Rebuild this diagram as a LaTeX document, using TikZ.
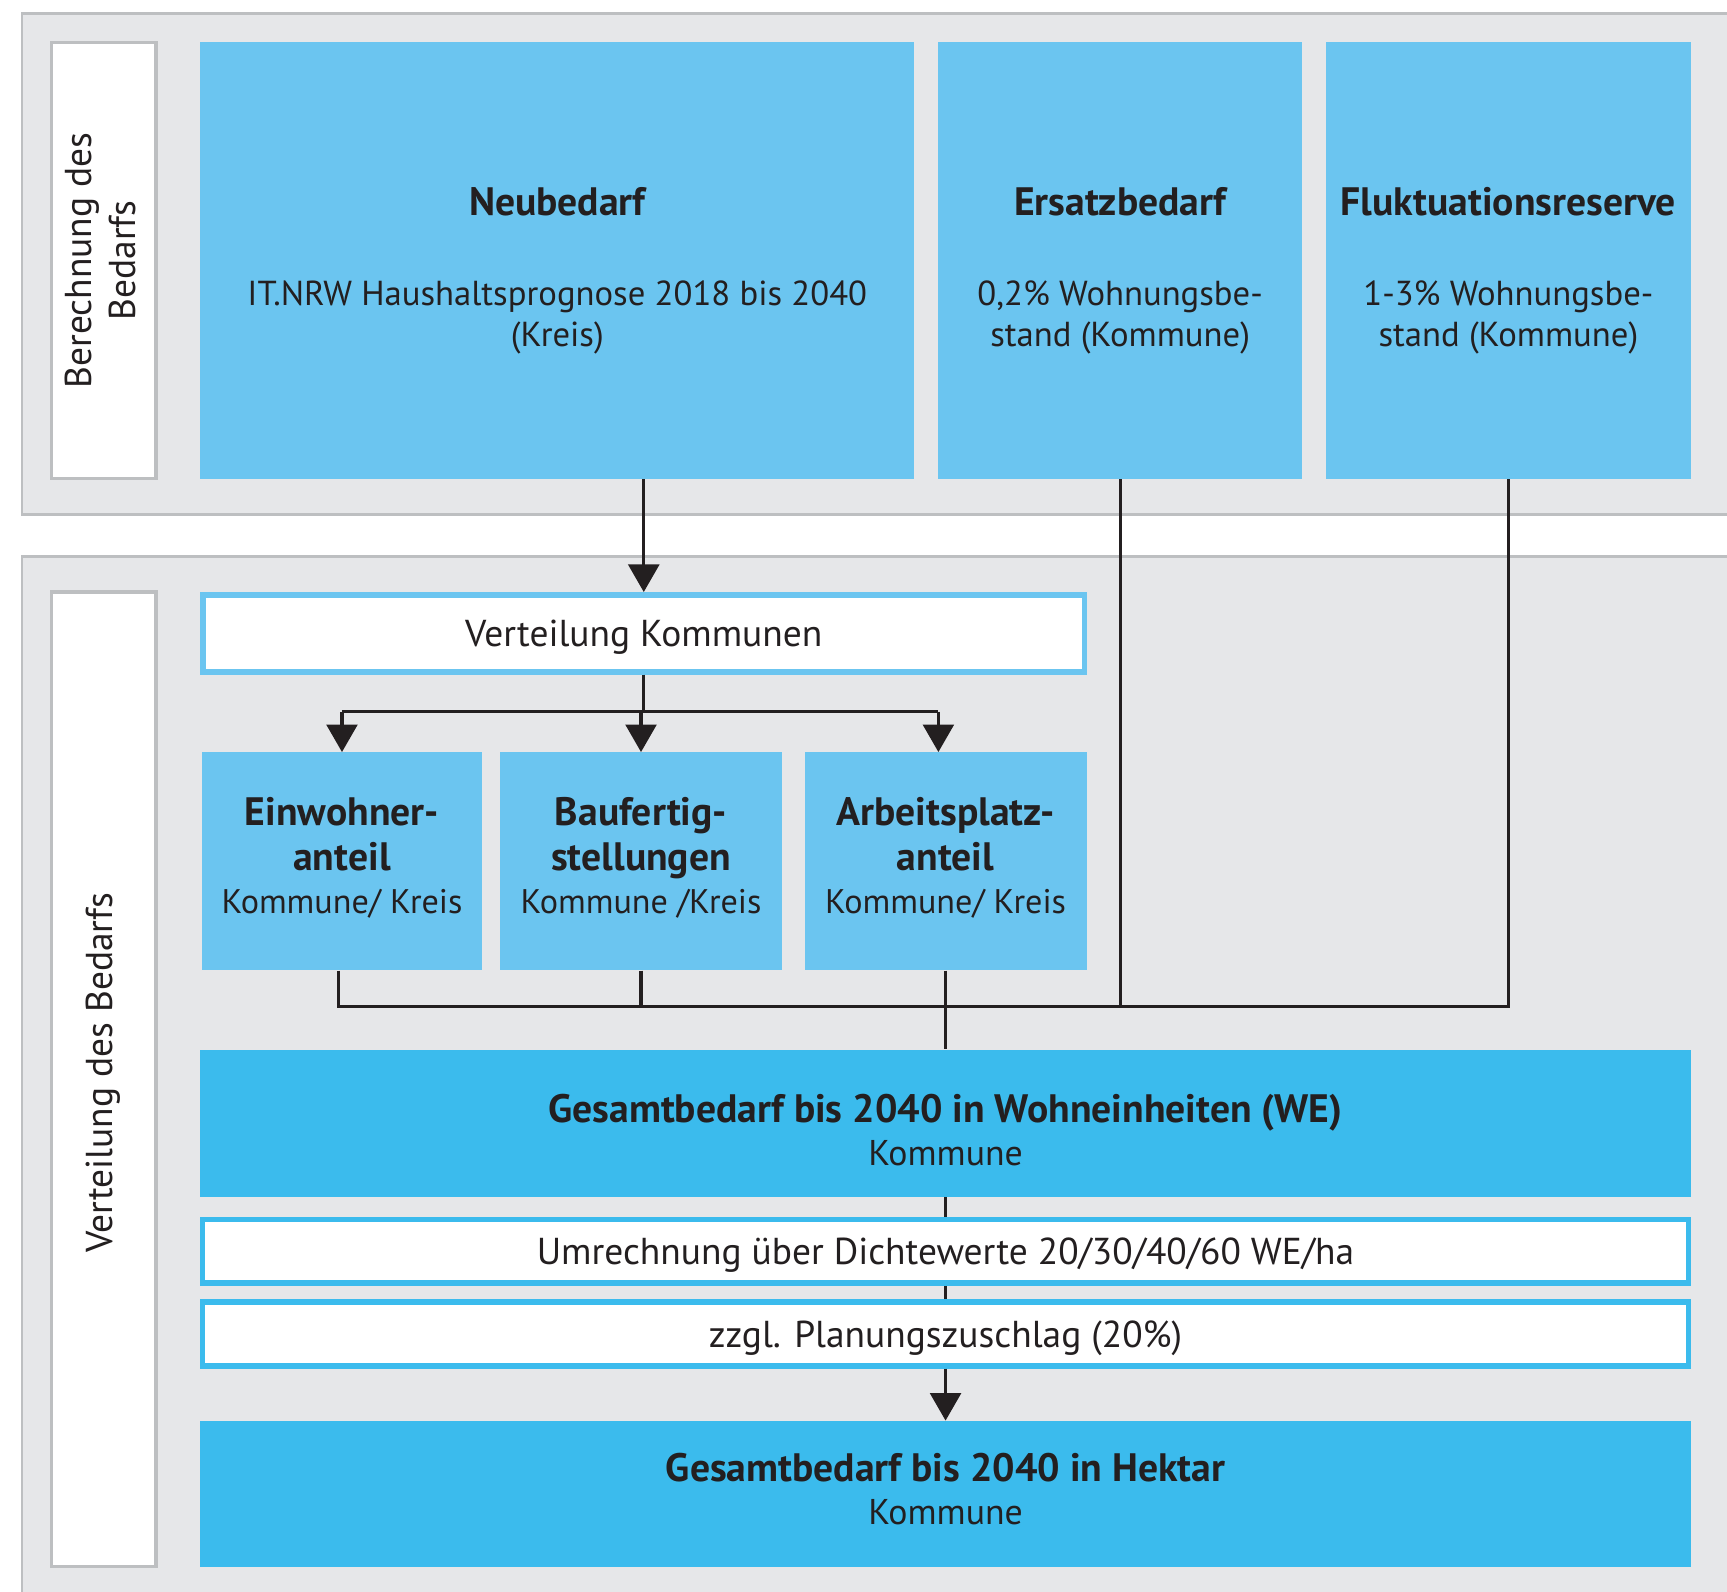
\documentclass[tikz,border=0pt]{standalone}
\usepackage{fontspec}
\setmainfont{PT Sans}
\usetikzlibrary{arrows.meta}
\definecolor{panelgray}{HTML}{E6E7E9}
\definecolor{panelline}{HTML}{BDBFC1}
\definecolor{lightblue}{HTML}{6BC5F0}
\definecolor{darkblue}{HTML}{3BBBED}
\definecolor{textdark}{HTML}{231F20}
\newcommand\hdfont{\fontsize{36}{41}\selectfont\bfseries}
\begin{document}
\begin{tikzpicture}[x=1pt,y=-1pt,
  every node/.style={text=textdark},
  panel/.style={fill=panelgray,draw=panelline,line width=2.5pt},
  sidelabel/.style={draw=panelline,fill=white,line width=3pt,rotate=90,align=center,inner sep=0pt,font=\fontsize{34}{40}\selectfont},
  topbox/.style={fill=lightblue,draw=none,align=center,inner sep=0pt,font=\fontsize{31.5}{37}\selectfont,minimum height=397pt},
  midbox/.style={fill=lightblue,draw=none,align=center,inner sep=0pt,font=\fontsize{31}{39}\selectfont,minimum height=198pt},
  dbox/.style={fill=darkblue,draw=none,align=center,inner sep=0pt,font=\fontsize{32.5}{39}\selectfont,minimum width=1353pt},
  wbox/.style={fill=white,line width=5pt,align=center,inner sep=0pt,font=\fontsize{34}{40}\selectfont,text depth=0pt},
  conn/.style={line width=2.8pt,draw=textdark},
  arr/.style={conn,-{Triangle[length=25pt,width=28pt]}}]
\useasboundingbox (0,0) rectangle (1568,1445);
\begin{scope}
\clip (0,0) rectangle (1568,1445);
\fill[white] (0,0) rectangle (1568,1445);
\draw[panel] (20,12) rectangle (1620,467);
\draw[panel] (20,505) rectangle (1620,1500);
\end{scope}

\node[sidelabel,minimum width=396pt,minimum height=95pt] (lab1) at (94,236.5) {Berechnung des\\Bedarfs\rule[-6pt]{0pt}{1pt}};
\node[sidelabel,minimum width=885pt,minimum height=95pt] (lab2) at (94,980) {\hspace*{12pt}Verteilung des Bedarfs};

\node[topbox,minimum width=648pt] (neu) at (506,236.5)
  {{\hdfont\rule{0pt}{44pt}Neubedarf}\\[45pt]IT.NRW Haushaltsprognose 2018 bis 2040\\(Kreis)};
\node[topbox,minimum width=330pt] (ers) at (1017,236.5)
  {{\hdfont\rule{0pt}{44pt}Ersatzbedarf}\\[45pt]0,2\% Wohnungsbe-\\stand (Kommune)};
\node[topbox,minimum width=331pt] (flu) at (1369.5,236.5)
  {{\hdfont\rule{0pt}{44pt}Fluktuationsreserve}\\[45pt]1-3\% Wohnungsbe-\\stand (Kommune)};

\node[wbox,draw=lightblue,minimum width=800pt,minimum height=70pt] (vk) at (584.5,575) {Verteilung Kommunen};

\node[midbox,minimum width=255pt] (ew) at (310.5,782)
  {{\hdfont Einwohner-}\\[2pt]{\hdfont anteil}\\Kommune/ Kreis\rule[-10pt]{0pt}{1pt}};
\node[midbox,minimum width=256pt] (bau) at (582,782)
  {{\hdfont Baufertig-}\\[2pt]{\hdfont stellungen}\\Kommune /Kreis\rule[-10pt]{0pt}{1pt}};
\node[midbox,minimum width=256pt] (ap) at (858.5,782)
  {{\hdfont Arbeitsplatz-}\\[2pt]{\hdfont anteil}\\Kommune/ Kreis\rule[-10pt]{0pt}{1pt}};

\node[dbox,minimum height=134pt] (gwe) at (858.5,1020)
  {{\hdfont\rule{0pt}{37pt}Gesamtbedarf bis 2040 in Wohneinheiten (WE)}\\Kommune};
\node[wbox,draw=darkblue,minimum width=1349pt,minimum height=58pt] (um) at (858.5,1136)
  {Umrechnung über Dichtewerte 20/30/40/60 WE/ha};
\node[wbox,draw=darkblue,minimum width=1349pt,minimum height=58pt] (zz) at (858.5,1211)
  {zzgl. Planungszuschlag (20\%)};
\node[dbox,minimum height=133pt] (hek) at (858.5,1356.5)
  {{\hdfont Gesamtbedarf bis 2040 in Hektar}\\Kommune\rule[-9pt]{0pt}{1pt}};

\coordinate (br) at (582,646);
\coordinate (jn) at (582,914);
\coordinate (apin) at ([xshift=-6.5pt]ap.north);
\coordinate (ewout) at ([xshift=-3pt]ew.south);

\draw[arr] (vk.north |- neu.south) -- (vk.north);
\draw[conn] (vk.south) -- (vk.south |- br);
\draw[conn] (ew.north |- br) -- (apin |- br);
\draw[arr] (ew.north |- br) -- (ew.north);
\draw[arr] (bau.north |- br) -- (bau.north);
\draw[arr] (apin |- br) -- (apin);

\draw[conn] (ewout) -- (ewout |- jn) -- (flu.south |- jn) -- (flu.south);
\draw[conn] (bau.south) -- (bau.south |- jn);
\draw[conn] (ers.south) -- (ers.south |- jn);
\draw[conn] (ap.south) -- (ap.south |- gwe.north);
\draw[conn] (gwe.south) -- (um.north);
\draw[conn] (um.south) -- (zz.north);
\draw[arr] (zz.south) -- (hek.north);
\end{tikzpicture}
\end{document}
